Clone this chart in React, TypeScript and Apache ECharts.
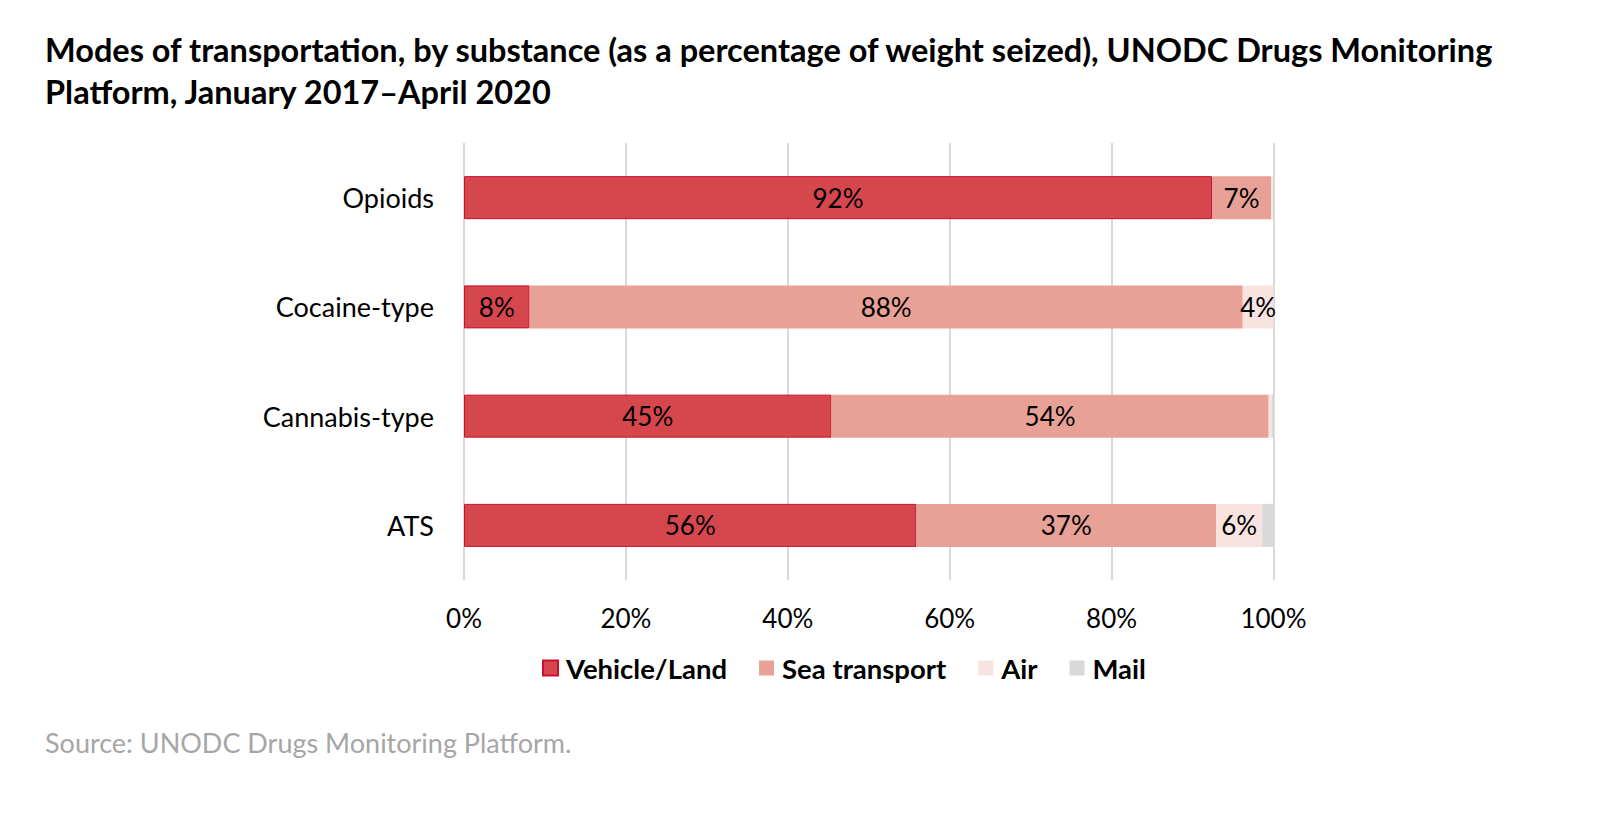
import React, { useEffect, useRef } from "react";
import * as echarts from "echarts";

const categories = ["Opioids", "Cocaine-type", "Cannabis-type", "ATS"];
const vehicleLand = [92.4, 8.1, 45.4, 55.9];
const seaTransport = [7.3, 88.1, 54.0, 37.0];
const air = [0.2, 3.8, 0.4, 5.7];
const mail = [0.1, 0.0, 0.2, 1.4];
const xTicks = [0, 20, 40, 60, 80, 100];

const FONT = "Lato";

export default function App() {
  const ref = useRef<HTMLDivElement>(null);
  useEffect(() => {
    if (!ref.current) return;
    const chart = echarts.init(ref.current, null, { renderer: "svg" });
    const label = {
      show: true,
      position: "inside",
      color: "#000",
      fontFamily: FONT,
      fontSize: 26,
      formatter: (p: any) => (p.value >= 3 ? Math.round(p.value) + "%" : ""),
    };
    const mk = (name: string, data: number[], color: string, border?: string) => ({
      name,
      type: "bar",
      stack: "total",
      data,
      barWidth: 43,
      itemStyle: { color, borderColor: border || color, borderWidth: border ? 1 : 0 },
      label,
      emphasis: { disabled: true },
    });
    chart.setOption({
      animation: false,
      textStyle: { fontFamily: FONT },
      title: {
        text:
          "Modes of transportation, by substance (as a percentage of weight seized), UNODC Drugs Monitoring\nPlatform, January 2017\u2013April 2020",
        left: 37,
        top: 20,
        padding: 0,
        textStyle: { fontFamily: FONT, fontSize: 32.5, fontWeight: "bold", color: "#000", lineHeight: 42 },
      },
      graphic: [
        {
          type: "text",
          left: 37,
          top: 721,
          style: { text: "Source: UNODC Drugs Monitoring Platform.", fontFamily: FONT, fontSize: 27, fill: "#a6a6a6" },
        },
      ],
      legend: {
        top: 646,
        left: 534,
        padding: 0,
        itemWidth: 15,
        itemHeight: 15,
        itemGap: 32,
        icon: "rect",
        textStyle: { fontFamily: FONT, fontSize: 27.5, fontWeight: "bold", color: "#000", padding: [0, 0, 0, 3] },
        data: ["Vehicle/Land", "Sea transport", "Air", "Mail"],
      },
      grid: { left: 456, right: 318.5, top: 135, height: 437, containLabel: false },
      xAxis: {
        type: "value",
        min: 0,
        max: 100,
        interval: 20,
        axisLine: { show: false },
        axisTick: { show: false },
        splitLine: { show: true, lineStyle: { color: "#d9d9d9", width: 2 } },
        axisLabel: {
          fontFamily: FONT,
          fontSize: 26,
          color: "#000",
          margin: 25,
          formatter: (v: number) => (xTicks.includes(v) ? v + "%" : ""),
        },
      },
      yAxis: {
        type: "category",
        data: categories,
        inverse: true,
        axisLine: { show: false },
        axisTick: { show: false },
        axisLabel: { fontFamily: FONT, fontSize: 27, color: "#000", margin: 30 },
      },
      series: [
        mk("Vehicle/Land", vehicleLand, "#d6464d", "#c8102e"),
        mk("Sea transport", seaTransport, "#e8a197"),
        mk("Air", air, "#f9e3e0"),
        mk("Mail", mail, "#d9d9d9"),
      ],
    });
    return () => chart.dispose();
  }, []);
  return <div ref={ref} style={{ width: 1584, height: 806 }} />;
}
